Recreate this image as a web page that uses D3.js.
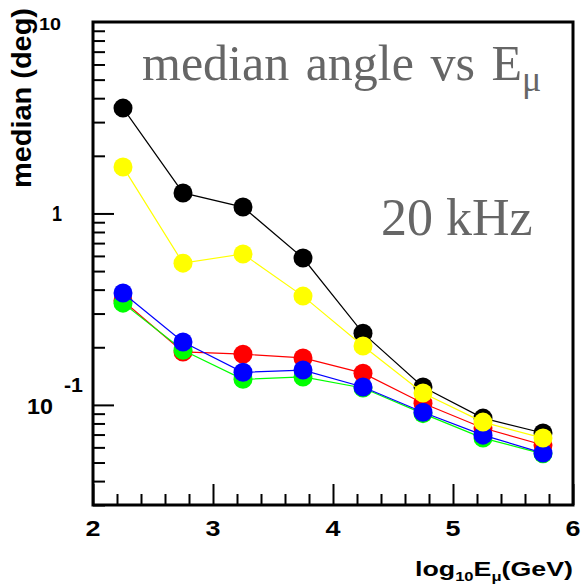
<!DOCTYPE html>
<html>
<head>
<meta charset="utf-8">
<script src="https://cdn.jsdelivr.net/npm/d3@7"></script>
<style>
  html, body { margin: 0; padding: 0; background: #fff; }
  svg { display: block; overflow: visible; }
  .lbl { font-family: "Liberation Sans", Arial, sans-serif; font-weight: bold; fill: #000; }
  .big { font-family: "Liberation Serif", "Times New Roman", serif; fill: #666; }
</style>
</head>
<body>
<script>
// energy bins (log10 E / GeV)
const energies = [2.25, 2.75, 3.25, 3.75, 4.25, 4.75, 5.25, 5.75];

// median angle (deg) per series
const blackVals  = [3.55, 1.28, 1.08, 0.585, 0.237, 0.124, 0.0853, 0.0713];
const redVals    = [0.35, 0.189, 0.184, 0.176, 0.1465, 0.102, 0.0757, 0.0617];
const greenVals  = [0.34, 0.193, 0.136, 0.140, 0.1225, 0.090, 0.0671, 0.0555];
const blueVals   = [0.384, 0.213, 0.148, 0.152, 0.124, 0.0916, 0.0695, 0.056];
const yellowVals = [1.75, 0.55, 0.614, 0.37, 0.203, 0.1153, 0.0813, 0.0671];

const seriesNames  = ["black", "red", "green", "blue", "yellow"];
const seriesColors = ["#000000", "#ff0000", "#00ff00", "#0000ff", "#ffff00"];
const seriesValues = [blackVals, redVals, greenVals, blueVals, yellowVals];

const xTickLabels = ["2", "3", "4", "5", "6"];

const width = 583, height = 588;
const margin = { top: 22, right: 10, bottom: 83, left: 93 };
const innerWidth = width - margin.left - margin.right;
const innerHeight = height - margin.top - margin.bottom;

const svg = d3.select("body").append("svg")
    .attr("width", width)
    .attr("height", height);

const chart = svg.append("g")
    .attr("transform", `translate(${margin.left}, ${margin.top})`);

const xScale = d3.scaleLinear().domain([2, 6]).range([0, innerWidth]);
const yScale = d3.scaleLog().domain([0.03, 10]).range([innerHeight, 0]);

// strip the axis line and the (empty) labels, keep only tick marks
const ticksOnly = g => {
    g.select(".domain").remove();
    g.selectAll("text").remove();
};

// minor / major ticks, drawn inward
const xMinor = d3.range(2, 6.001, 0.2).filter(v => Math.abs(v - Math.round(v)) > 1e-6);
const xMajor = [2, 3, 4, 5, 6];
chart.append("g")
    .attr("transform", `translate(0, ${innerHeight})`)
    .call(d3.axisBottom(xScale).tickValues(xMinor).tickSize(-11))
    .call(ticksOnly);
chart.append("g")
    .attr("transform", `translate(0, ${innerHeight})`)
    .call(d3.axisBottom(xScale).tickValues(xMajor).tickSize(-21))
    .call(ticksOnly);

const yMinor = [];
[0.01, 0.1, 1].forEach(d => { for (let k = 2; k <= 9; k++) { const v = d * k; if (v >= 0.03 && v < 10) yMinor.push(v); } });
const yMajor = [0.1, 1];
chart.append("g")
    .call(d3.axisLeft(yScale).tickValues(yMinor).tickSize(-12))
    .call(ticksOnly);
chart.append("g")
    .call(d3.axisLeft(yScale).tickValues(yMajor).tickSize(-21))
    .call(ticksOnly);

chart.selectAll(".tick line").attr("stroke", "#000").attr("stroke-width", 2);

// frame
chart.append("rect")
    .attr("x", 0).attr("y", 0)
    .attr("width", innerWidth).attr("height", innerHeight)
    .attr("fill", "none")
    .attr("stroke", "#000")
    .attr("stroke-width", 3);

// series lines then markers
const line = d3.line()
    .x((d, i) => xScale(energies[i]))
    .y(d => yScale(d));

seriesValues.forEach((vals, s) => {
    const g = chart.append("g").attr("class", "series-" + seriesNames[s]);
    g.append("path")
        .datum(vals)
        .attr("d", line)
        .attr("fill", "none")
        .attr("stroke", seriesColors[s])
        .attr("stroke-width", 1.2);
    g.selectAll("circle")
        .data(vals)
        .join("circle")
        .attr("cx", (d, i) => xScale(energies[i]))
        .attr("cy", d => yScale(d))
        .attr("r", 9.5)
        .attr("fill", seriesColors[s]);
});

// x tick labels
xMajor.forEach((v, i) => {
    svg.append("text")
        .attr("class", "lbl")
        .attr("x", margin.left + xScale(v))
        .attr("y", margin.top + innerHeight + 31)
        .attr("text-anchor", "middle")
        .attr("font-size", 22)
        .attr("textLength", 15)
        .attr("lengthAdjust", "spacingAndGlyphs")
        .text(xTickLabels[i]);
});

// y tick labels
const yl = v => margin.top + yScale(v);
const yLabel = (txt, x, y, size, len, anchor) => svg.append("text").attr("class", "lbl")
    .attr("x", x).attr("y", y)
    .attr("text-anchor", anchor)
    .attr("font-size", size)
    .attr("textLength", len)
    .attr("lengthAdjust", "spacingAndGlyphs")
    .text(txt);
yLabel("10", 61, yl(10) + 8, 17, 22, "end");
yLabel("1", 62, yl(1) + 8, 22, 10, "end");
yLabel("10", 53, yl(0.1) + 9, 22, 26, "end");
yLabel("-1", 64, yl(0.1) - 13, 21, 19, "start");

// axis titles
const xt = svg.append("text").attr("class", "lbl")
    .attr("x", margin.left + innerWidth)
    .attr("y", 576)
    .attr("text-anchor", "end")
    .attr("font-size", 21)
    .attr("textLength", 158)
    .attr("lengthAdjust", "spacingAndGlyphs");
xt.append("tspan").text("log");
xt.append("tspan").attr("font-size", 13).attr("dy", 5).text("10");
xt.append("tspan").attr("dy", -5).text("E");
xt.append("tspan").attr("font-size", 13).attr("dy", 5).text("\u03bc");
xt.append("tspan").attr("dy", -5).text("(GeV)");

svg.append("text").attr("class", "lbl")
    .attr("x", 31).attr("y", 8)
    .attr("transform", "rotate(-90, 31, 8)")
    .attr("text-anchor", "end")
    .attr("font-size", 28)
    .attr("textLength", 180)
    .attr("lengthAdjust", "spacingAndGlyphs")
    .text("median (deg)");

// annotations
const title = svg.append("text").attr("class", "big")
    .attr("x", 142).attr("y", 80)
    .attr("font-size", 50)
    .attr("word-spacing", 4);
title.append("tspan").text("median angle vs E");
title.append("tspan").attr("font-size", 36).attr("dy", 11).text("\u03bc");

svg.append("text").attr("class", "big")
    .attr("x", 381).attr("y", 235)
    .attr("font-size", 52)
    .text("20 kHz");
</script>
</body>
</html>
